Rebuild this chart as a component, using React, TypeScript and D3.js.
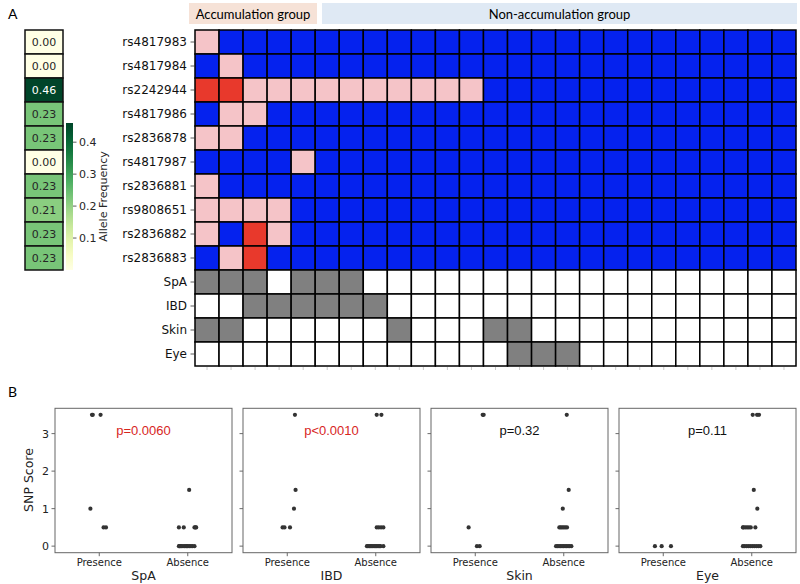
import React from 'react';
import * as d3 from 'd3';

// SNP rows and phenotype rows of the genotype panel
const snpIds = ['rs4817983', 'rs4817984', 'rs2242944', 'rs4817986', 'rs2836878',
  'rs4817987', 'rs2836881', 'rs9808651', 'rs2836882', 'rs2836883'];
const alleleFreq = [0.0, 0.0, 0.46, 0.23, 0.23, 0.0, 0.23, 0.21, 0.23, 0.23];

// 0 = reference, 1 = heterozygous, 2 = homozygous (one char per patient)
const genotypes = [
  '10000 00000 00000 00000 00000',
  '01000 00000 00000 00000 00000',
  '22111 11111 11000 00000 00000',
  '01100 00000 00000 00000 00000',
  '11000 00000 00000 00000 00000',
  '00001 00000 00000 00000 00000',
  '10000 00000 00000 00000 00000',
  '11110 00000 00000 00000 00000',
  '10210 00000 00000 00000 00000',
  '01200 00000 00000 00000 00000',
];

const phenotypes = ['SpA', 'IBD', 'Skin', 'Eye'];
const phenoRows = [
  '11101 11000 00000 00000 00000',
  '00111 11100 00000 00000 00000',
  '11000 00010 00110 00000 00000',
  '00000 00000 00011 10000 00000',
];

const freqTicks = [0.1, 0.2, 0.3, 0.4];

// SNP score strip plots: [score, jitter] per patient
const spaPresence = [[3.5, -0.082], [3.5, -0.073], [3.5, 0.015], [1.0, -0.1], [0.5, 0.049], [0.5, 0.076]];
const spaAbsence = [[1.5, 0.016], [0.5, -0.1], [0.5, -0.045], [0.5, 0.076], [0.5, 0.087], [0.5, 0.095],
  [0, -0.1], [0, -0.093], [0, -0.085], [0, -0.071], [0, -0.054], [0, -0.037], [0, -0.02],
  [0, -0.009], [0, 0.002], [0, 0.019], [0, 0.036], [0, 0.053], [0, 0.076]];
const ibdPresence = [[3.5, 0.087], [1.5, 0.094], [1.0, 0.076], [0.5, -0.053], [0.5, -0.031], [0.5, 0.031]];
const ibdAbsence = [[3.5, 0.011], [3.5, 0.064], [0.5, 0.011], [0.5, 0.034], [0.5, 0.06], [0.5, 0.086],
  [0, -0.1], [0, -0.088], [0, -0.073], [0, -0.06], [0, -0.045], [0, -0.032], [0, -0.017],
  [0, -0.003], [0, 0.011], [0, 0.026], [0, 0.04], [0, 0.054], [0, 0.086]];
const skinPresence = [[3.5, 0.084], [3.5, 0.095], [0.5, -0.075], [0, 0.019], [0, 0.05]];
const skinAbsence = [[3.5, 0.034], [1.5, 0.056], [1.0, -0.011],
  [0.5, -0.05], [0.5, -0.034], [0.5, -0.018], [0.5, 0.0], [0.5, 0.018], [0.5, 0.037],
  [0, -0.087], [0, -0.07], [0, -0.053], [0, -0.036], [0, -0.019], [0, -0.002], [0, 0.015],
  [0, 0.032], [0, 0.049], [0, 0.066], [0, 0.086]];
const eyePresence = [[0, -0.094], [0, -0.018], [0, 0.087]];
const eyeAbsence = [[3.5, 0.011], [3.5, 0.06], [3.5, 0.082], [1.5, 0.023], [1.0, 0.063],
  [0.5, -0.1], [0.5, -0.093], [0.5, -0.072], [0.5, -0.052], [0.5, -0.032], [0.5, -0.011], [0.5, 0.041],
  [0, -0.1], [0, -0.084], [0, -0.061], [0, -0.038], [0, -0.016], [0, 0.007], [0, 0.029],
  [0, 0.052], [0, 0.075], [0, 0.097]];

const pValues = ['p=0.0060', 'p<0.0010', 'p=0.32', 'p=0.11'];
const significant = [true, true, false, false];
const scoreTicks = [0, 1, 2, 3];
const groupLabels = ['Presence', 'Absence'];

const stripData = [
  [spaPresence, spaAbsence],
  [ibdPresence, ibdAbsence],
  [skinPresence, skinAbsence],
  [eyePresence, eyeAbsence],
];

const genoColor = ['#0522ee', '#f5c4c8', '#e8392c'];
const mpl = 'DejaVu Sans, sans-serif';

const parse = (s: string) => s.replace(/ /g, '').split('').map(Number);

export default function App() {
  const nCols = parse(genotypes[0]).length;
  const rowLabels = [...snpIds, ...phenotypes];
  const x = d3.scaleBand<number>().domain(d3.range(nCols)).range([195, 796]);
  const y = d3.scaleBand<string>().domain(rowLabels).range([30, 366]);

  const freqColor = d3.scaleSequential(d3.interpolateYlGn).domain([0, 0.46]);
  const cbar = d3.scaleLinear().domain([0, 0.46]).range([270, 123]);
  const gradStops = d3.range(0, 1.0001, 0.1);

  // lower strip plot panels
  const panelW = 177;
  const panelLefts = [55, 243, 431, 619];
  const sy = d3.scaleLinear().domain([-0.175, 3.675]).range([552.7, 408.3]);

  return (
    <svg width={800} height={584} style={{ position: 'absolute', left: 0, top: 0, background: '#fff' }}>
      <defs>
        <linearGradient id="ylgn" x1="0" y1="1" x2="0" y2="0">
          {gradStops.map(t => (
            <stop key={t} offset={t} stopColor={d3.interpolateYlGn(t)} />
          ))}
        </linearGradient>
      </defs>

      <text x={8} y={19} fontFamily="Lato, sans-serif" fontSize={14}>A</text>
      <text x={8} y={397} fontFamily="Lato, sans-serif" fontSize={14}>B</text>

      {/* group headers */}
      <rect x={189} y={3} width={128} height={21} fill="#f6e2d7" />
      <text x={253} y={18.5} textAnchor="middle" fontFamily="Lato, sans-serif" fontSize={13}>Accumulation group</text>
      <rect x={322} y={3} width={475} height={21} fill="#dfe9f4" />
      <text x={559.5} y={18.5} textAnchor="middle" fontFamily="Lato, sans-serif" fontSize={13}>Non-accumulation group</text>

      {/* allele frequency column */}
      {alleleFreq.map((f, i) => (
        <g key={snpIds[i]}>
          <rect x={25} y={y(snpIds[i])} width={38} height={y.bandwidth()} fill={freqColor(f)}
            stroke="#111" strokeWidth={1.5} />
          <text x={44} y={(y(snpIds[i]) as number) + y.bandwidth() / 2 + 4} textAnchor="middle"
            fontFamily={mpl} fontSize={11} fill={f > 0.35 ? '#fff' : '#262626'}>{f.toFixed(2)}</text>
        </g>
      ))}

      {/* colour bar */}
      <rect x={66} y={cbar(0.46)} width={7} height={cbar(0) - cbar(0.46)} fill="url(#ylgn)" />
      {freqTicks.map(t => (
        <g key={t}>
          <line x1={73} x2={76.5} y1={cbar(t)} y2={cbar(t)} stroke="#333" strokeWidth={0.8} />
          <text x={79} y={cbar(t) + 4} fontFamily={mpl} fontSize={11} fill="#262626">{t.toFixed(1)}</text>
        </g>
      ))}
      <text transform={`translate(107,${(cbar(0) + cbar(0.46)) / 2}) rotate(-90)`} textAnchor="middle"
        fontFamily={mpl} fontSize={11} fill="#262626">Allele Frequency</text>

      {/* genotype cells */}
      {genotypes.map((row, r) => parse(row).map((g, c) => (
        <rect key={`g${r}-${c}`} x={x(c)} y={y(snpIds[r])} width={x.bandwidth()} height={y.bandwidth()}
          fill={genoColor[g]} stroke="#000" strokeWidth={1.5} />
      )))}
      {phenoRows.map((row, r) => parse(row).map((p, c) => (
        <rect key={`p${r}-${c}`} x={x(c)} y={y(phenotypes[r])} width={x.bandwidth()} height={y.bandwidth()}
          fill={p ? '#808080' : '#fff'} stroke="#000" strokeWidth={1.5} />
      )))}

      {/* row labels */}
      {rowLabels.map(l => {
        const cy = (y(l) as number) + y.bandwidth() / 2;
        return (
          <g key={l}>
            <line x1={190.5} x2={195} y1={cy} y2={cy} stroke="#333" strokeWidth={0.8} />
            <text x={187} y={cy + 4} textAnchor="end" fontFamily={mpl} fontSize={12} fill="#111">{l}</text>
          </g>
        );
      })}
      {d3.range(nCols).map(c => (
        <line key={c} x1={(x(c) as number) + x.bandwidth() / 2} x2={(x(c) as number) + x.bandwidth() / 2}
          y1={367} y2={370} stroke="#bbb" strokeWidth={0.8} />
      ))}

      {/* strip plots */}
      {phenotypes.map((name, k) => {
        const left = panelLefts[k];
        const sx = d3.scaleLinear().domain([-0.5, 1.5]).range([left, left + panelW]);
        return (
          <g key={name}>
            {scoreTicks.map(t => (
              <g key={t}>
                <line x1={left - 3.5} x2={left} y1={sy(t)} y2={sy(t)} stroke="#444" strokeWidth={0.8} />
                {k === 0 && (
                  <text x={left - 6} y={sy(t) + 4} textAnchor="end" fontFamily={mpl} fontSize={11} fill="#222">{t}</text>
                )}
              </g>
            ))}
            {groupLabels.map((g, gi) => (
              <g key={g}>
                <line x1={sx(gi)} x2={sx(gi)} y1={sy.range()[0]} y2={sy.range()[0] + 3.5} stroke="#444" strokeWidth={0.8} />
                <text x={sx(gi)} y={566} textAnchor="middle" fontFamily={mpl} fontSize={10} fill="#222">{g}</text>
              </g>
            ))}
            <text x={left + panelW / 2} y={580} textAnchor="middle" fontFamily={mpl} fontSize={12.5} fill="#222">{name}</text>
            {stripData[k].map((pts, gi) => pts.map(([s, j], i) => (
              <circle key={`${gi}-${i}`} cx={sx(gi + j)} cy={sy(s)} r={2.1} fill="#333" />
            )))}
            <text x={left + panelW / 2} y={435} textAnchor="middle" fontFamily="Liberation Sans, Arial, sans-serif"
              fontSize={13} fill={significant[k] ? '#d7261e' : '#111'}>{pValues[k]}</text>
            <rect x={left} y={sy.range()[1]} width={panelW} height={sy.range()[0] - sy.range()[1]}
              fill="none" stroke="#666" strokeWidth={1} />
          </g>
        );
      })}
      <text transform="translate(33,480) rotate(-90)" textAnchor="middle" fontFamily={mpl} fontSize={12.5} fill="#222">SNP Score</text>
    </svg>
  );
}
